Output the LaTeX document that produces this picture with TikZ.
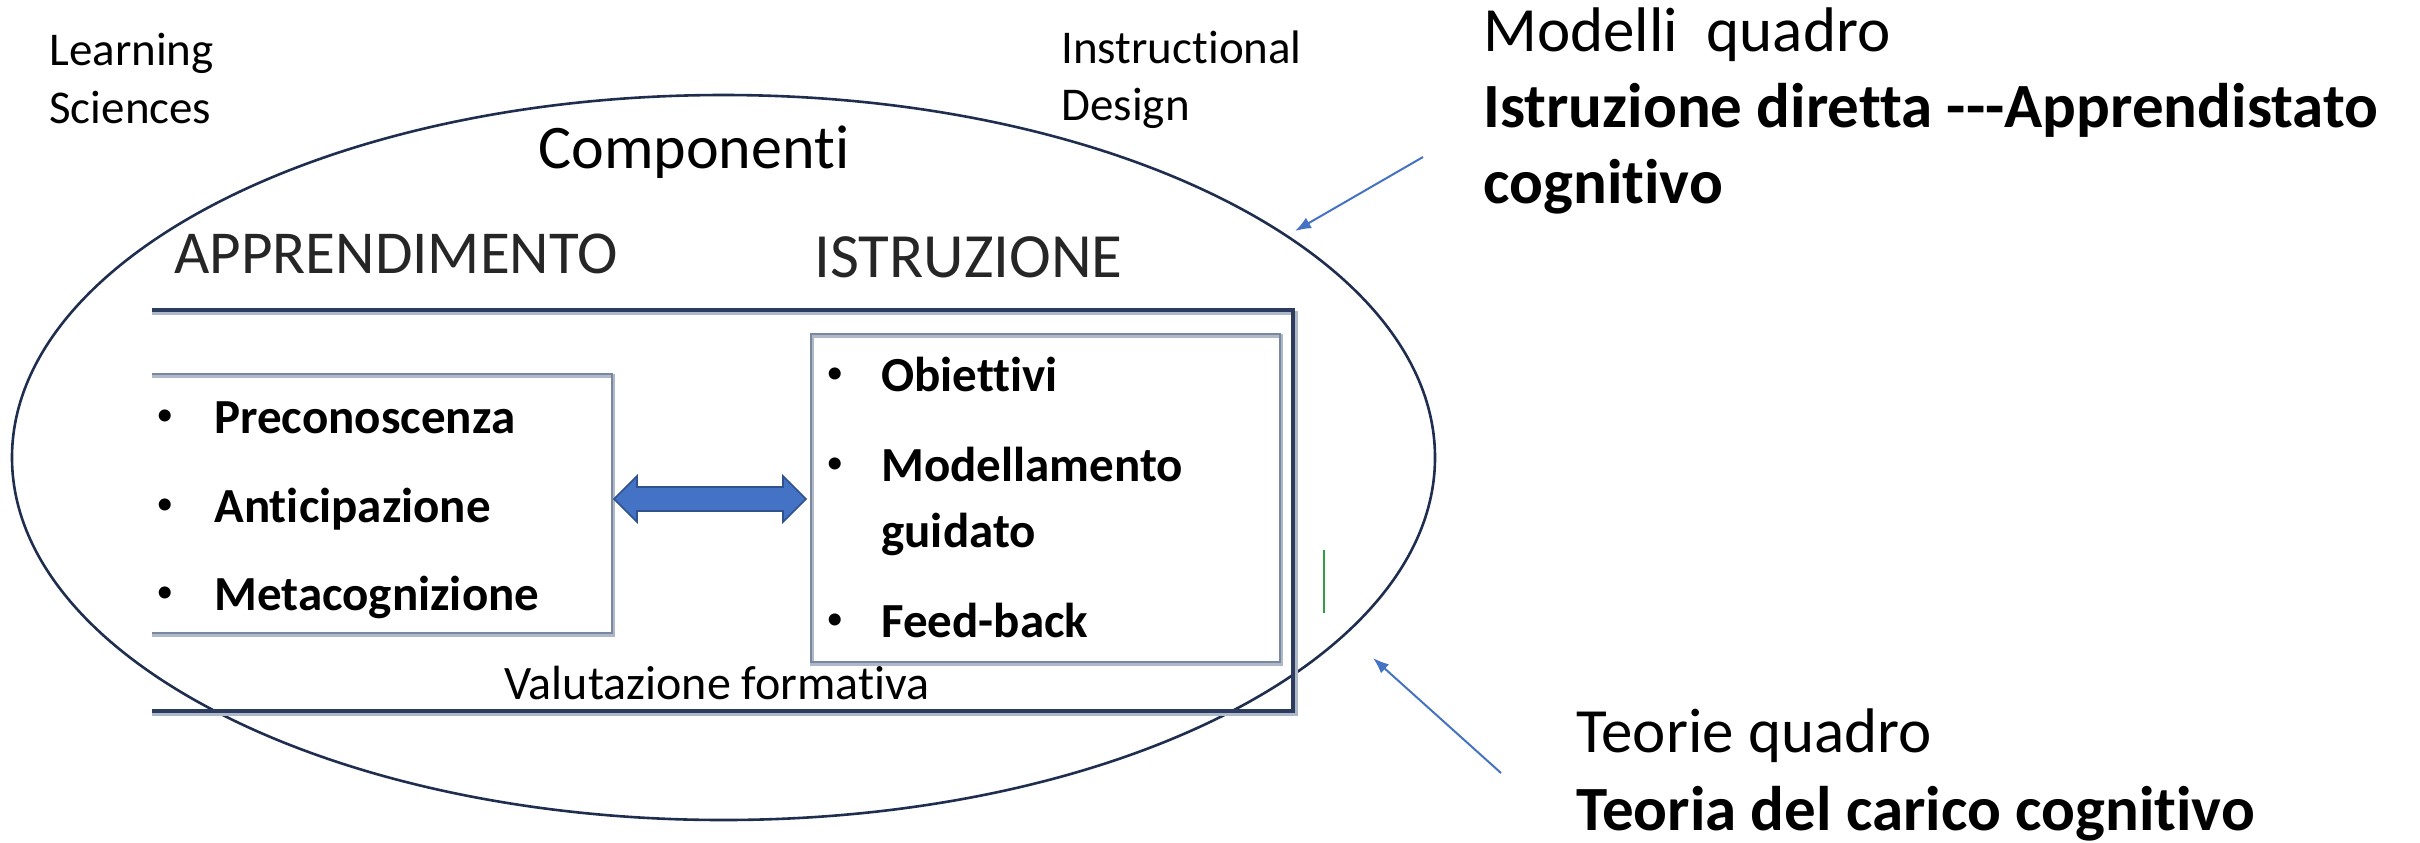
\documentclass[tikz,border=0pt]{standalone}
\usepackage{fontspec}
\setmainfont{Carlito}[Ligatures=NoCommon]
\usetikzlibrary{arrows.meta}
\definecolor{navy}{HTML}{1F2E4E}
\definecolor{boxline}{HTML}{2B3C5E}
\definecolor{boxshadow}{HTML}{AEB8C8}
\definecolor{innerline}{HTML}{7A889F}
\definecolor{accent}{HTML}{4472C4}
\definecolor{accentdk}{HTML}{2F528F}
\definecolor{greenmark}{HTML}{2EA043}
\begin{document}
\begin{tikzpicture}[x=0.5pt,y=-0.5pt,
  lbl/.style={inner sep=0pt,anchor=base west,text=black},
  small/.style={lbl,font=\fontsize{23.5pt}{28pt}\selectfont},
  big/.style={lbl,font=\fontsize{31.5pt}{38pt}\selectfont},
  head/.style={lbl,text=black!85},
  item/.style={lbl,font=\fontsize{24.5pt}{30pt}\selectfont\bfseries},
  bul/.style={lbl,font=\fontsize{17pt}{20pt}\selectfont},
  pointer/.style={accent,line width=1pt,-{Latex[length=8pt,width=6pt]}},
  outerbox/.style={boxline,line width=1.8pt},
  outershadow/.style={boxshadow,line width=2pt},
  innerbox/.style={innerline,line width=0.8pt},
  innershadow/.style={boxshadow,line width=1.6pt}]
\useasboundingbox (0,0) rectangle (2420,842);

% outer ellipse
\draw[navy,line width=1.3pt] (723.5,457.5) ellipse [x radius=355.75pt, y radius=181.25pt];
\coordinate (ellTR) at (1295,231);
\coordinate (ellBR) at (1373,658);

% outer (open-left) frame
\draw[outershadow] (152,313) -- (1296,313) -- (1296,714) -- (152,714);
\draw[outerbox] (152,310) -- (1293,310) -- (1293,711) -- (152,711);

% left inner box (open left)
\draw[innershadow] (152,376) -- (613,376) -- (613,635) -- (152,635);
\draw[innerbox] (152,374) -- (612,374) -- (612,633) -- (152,633);
\coordinate (leftR) at (612,499);

% right inner box
\draw[innershadow] (812,336) rectangle (1281,664);
\draw[innerbox] (811,334) rectangle (1280,662);
\coordinate (rightL) at (811,499);

% double block arrow between the boxes
\fill[accent,draw=accentdk,line width=0.8pt]
  ([xshift=1pt]leftR) -- ++(23,-23) -- ++(0,11) -- ++(146,0) -- ++(0,-11)
  -- ([xshift=-2.5pt]rightL) -- ++(-23,23) -- ++(0,-11) -- ++(-146,0) -- ++(0,11) -- cycle;

% top labels
\node[small] (ls1) at (49,65) {Learning};
\node[small] (ls2) at (49,123) {Sciences};
\node[small] (id1) at (1061,63) {Instructional};
\node[small] (id2) at (1061,120) {Design};
\node[lbl,font=\fontsize{31pt}{37pt}\selectfont] (comp) at (538,168) {Componenti};
\node[head,font=\fontsize{30.5pt}{37pt}\selectfont] (appr) at (174,273) {APPRENDIMENTO};
\node[head,font=\fontsize{31.5pt}{37pt}\selectfont] (istr) at (814,277) {ISTRUZIONE};

% left list
\node[bul] (b1) at (156,425) {•};
\node[item] (l1) at (214,433) {Preconoscenza};
\node[bul] (b2) at (156,514) {•};
\node[item] (l2) at (214,522) {Anticipazione};
\node[bul] (b3) at (156,602) {•};
\node[item] (l3) at (214,610) {Metacognizione};

% right list
\node[bul] (b4) at (826,383) {•};
\node[item] (r1) at (881,391) {Obiettivi};
\node[bul] (b5) at (826,473) {•};
\node[item] (r2) at (881,481) {Modellamento};
\node[item] (r2b) at (881,547) {guidato};
\node[bul] (b6) at (826,629) {•};
\node[item] (r3) at (881,637) {Feed-back};

\node[lbl,font=\fontsize{24pt}{28pt}\selectfont] (val) at (504,699) {Valutazione formativa};

% green mark
\draw[greenmark,line width=1pt] (1324,550) coordinate (g1) -- (1324,613) coordinate (g2);

% right side texts
\node[big] (mq) at (1483,51) {Modelli\ \ quadro};
\node[big,font=\fontsize{31.5pt}{38pt}\selectfont\bfseries] (mq2) at (1483,127) {Istruzione diretta \hbox{-}\hbox{-}\hbox{-}Apprendistato};
\node[big,font=\fontsize{31.5pt}{38pt}\selectfont\bfseries] (mq3) at (1483,203) {cognitivo};
\node[big] (tq) at (1576,752) {Teorie quadro};
\node[big,font=\fontsize{31.5pt}{38pt}\selectfont\bfseries] (tq2) at (1576,830) {Teoria del carico cognitivo};

\coordinate (mqstart) at (1423,157);
\coordinate (tqstart) at (1501,773);
\draw[pointer] (mqstart) -- (ellTR);
\draw[pointer] (tqstart) -- (ellBR);
\end{tikzpicture}
\end{document}
